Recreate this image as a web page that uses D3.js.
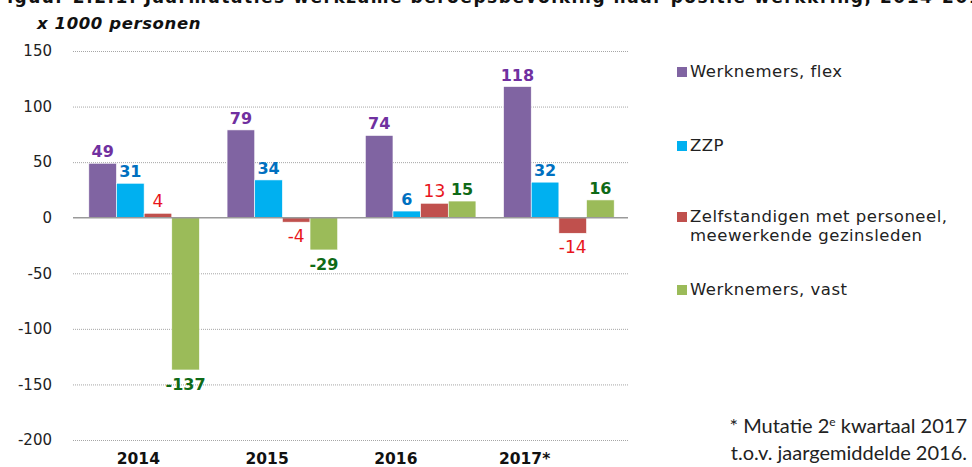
<!DOCTYPE html>
<html>
<head>
<meta charset="utf-8">
<script src="https://cdn.jsdelivr.net/npm/d3@7"></script>
<style>
  body { margin: 0; background: #fff; }
  svg { display: block; }
</style>
</head>
<body>
<svg id="chart" width="972" height="467"></svg>
<script>
// data (x 1000 personen)
var years = ["2014", "2015", "2016", "2017*"];
var seriesNames = ["Werknemers, flex", "ZZP", "Zelfstandigen met personeel, meewerkende gezinsleden", "Werknemers, vast"];
var flex = [49, 79, 74, 118];
var zzp = [31, 34, 6, 32];
var zmp = [4, -4, 13, -14];
var vast = [-137, -29, 15, 16];
var yTicks = [150, 100, 50, 0, -50, -100, -150, -200];

var barColors = ["#8064a2", "#00b0f0", "#c0504d", "#9bbb59"];
var labelColors = ["#7030a0", "#0070c0", "#e8141c", "#0f6a17"];
var labelFonts = ["bold 16px", "bold 16px", "17px", "bold 16px"];

var allSeries = [flex, zzp, zmp, vast];
var svg = d3.select("#chart");

// clipped title at the top
svg.append("text")
   .attr("x", -6).attr("y", 3)
   .attr("textLength", 1000)
   .style("font", "bold 17px 'DejaVu Sans', Verdana, sans-serif")
   .style("fill", "#111")
   .text("Figuur 2.2.1: Jaarmutaties werkzame beroepsbevolking naar positie werkkring, 2014-2017");

svg.append("text")
   .attr("x", 37).attr("y", 29)
   .style("font", "italic bold 16.5px 'DejaVu Sans', Verdana, sans-serif")
   .style("letter-spacing", "0.6px")
   .style("fill", "#111")
   .text("x 1000 personen");

var left = 73, right = 628;
var y = d3.scaleLinear().domain([-200, 150]).range([440, 51]);

var x0 = d3.scaleBand().domain(years).range([left + 2, right]).paddingInner(0.2).paddingOuter(0.1);
var x1 = d3.scaleBand().domain(d3.range(4)).range([0, x0.bandwidth()]);
// category labels sit a bit left of the bar groups in the original
var xLab = d3.scaleBand().domain(years).range([74, 589]);

// grid
svg.append("g").selectAll("line")
   .data(yTicks.filter(function(d) { return d != 0; }))
   .enter().append("line")
   .attr("x1", left).attr("x2", right)
   .attr("y1", function(d) { return y(d) + 0.5; })
   .attr("y2", function(d) { return y(d) + 0.5; })
   .style("stroke", "#a6a6a6")
   .style("stroke-dasharray", "1,1");

// y axis labels
var yAxis = d3.axisLeft(y).tickValues(yTicks).tickSize(0).tickPadding(0)
              .tickFormat(function(d) { return String(d); });
var gy = svg.append("g").attr("transform", "translate(52,0)").call(yAxis);
gy.select(".domain").remove();
gy.selectAll("text")
  .style("font", "15px 'DejaVu Sans', Verdana, sans-serif")
  .style("fill", "#222");

// bars
var groups = svg.append("g").selectAll("g")
   .data(years).enter().append("g")
   .attr("transform", function(d) { return "translate(" + x0(d) + ",0)"; });

groups.each(function(yr, gi) {
    var g = d3.select(this);
    for (var s = 0; s < allSeries.length; s++) {
        var v = allSeries[s][gi];
        g.append("rect")
         .attr("x", x1(s))
         .attr("width", x1.bandwidth())
         .attr("y", y(Math.max(0, v)))
         .attr("height", Math.abs(y(v) - y(0)))
         .style("fill", barColors[s])
         .style("stroke", "#fff")
         .style("stroke-width", 0.6);
        g.append("text")
         .attr("x", x1(s) + x1.bandwidth() / 2)
         .attr("y", v >= 0 ? y(v) - 6 : y(v) + 20)
         .attr("text-anchor", "middle")
         .style("font", labelFonts[s] + " 'DejaVu Sans', Verdana, sans-serif")
         .style("fill", labelColors[s])
         .text(v);
    }
});

// zero line
svg.append("line")
   .attr("x1", left).attr("x2", right)
   .attr("y1", y(0)).attr("y2", y(0))
   .style("stroke", "#9a9a9a")
   .style("stroke-width", 1.5);

// category labels
svg.append("g").selectAll("text")
   .data(years).enter().append("text")
   .attr("x", function(d) { return xLab(d) + xLab.bandwidth() / 2; })
   .attr("y", 464)
   .attr("text-anchor", "middle")
   .style("font", "bold 15.5px 'DejaVu Sans', Verdana, sans-serif")
   .style("fill", "#111")
   .text(function(d) { return d; });

// legend
var legendY = [77, 151, 222, 295];
var leg = svg.append("g").selectAll("g")
   .data(seriesNames).enter().append("g");
leg.append("rect")
   .attr("x", 677).attr("width", 10).attr("height", 10)
   .attr("y", function(d, i) { return legendY[i] - 10; })
   .style("fill", function(d, i) { return barColors[i]; });
leg.append("text")
   .attr("x", 690)
   .attr("y", function(d, i) { return legendY[i]; })
   .style("font", "16.5px 'DejaVu Sans', Verdana, sans-serif")
   .style("letter-spacing", "0.5px")
   .style("fill", "#222")
   .each(function(d) {
       var parts = d.split(", ");
       var t = d3.select(this);
       if (parts.length > 1 && parts[1].length > 10) {
           t.append("tspan").text(parts[0] + ",");
           t.append("tspan").attr("x", 690).attr("dy", 19).text(parts[1]);
       } else {
           t.text(d);
       }
   });

// footnote
var note = svg.append("g").style("font", "20px Lato, 'Open Sans', sans-serif").style("fill", "#222");
var n1 = note.append("text").attr("x", 967).attr("y", 433).attr("text-anchor", "end");
n1.append("tspan").text("* Mutatie 2");
n1.append("tspan").attr("dy", -7).style("font-size", "12px").text("e");
n1.append("tspan").attr("dy", 7).text(" kwartaal 2017");
note.append("text").attr("x", 967).attr("y", 460).attr("text-anchor", "end")
    .text("t.o.v. jaargemiddelde 2016.");
</script>
</body>
</html>
